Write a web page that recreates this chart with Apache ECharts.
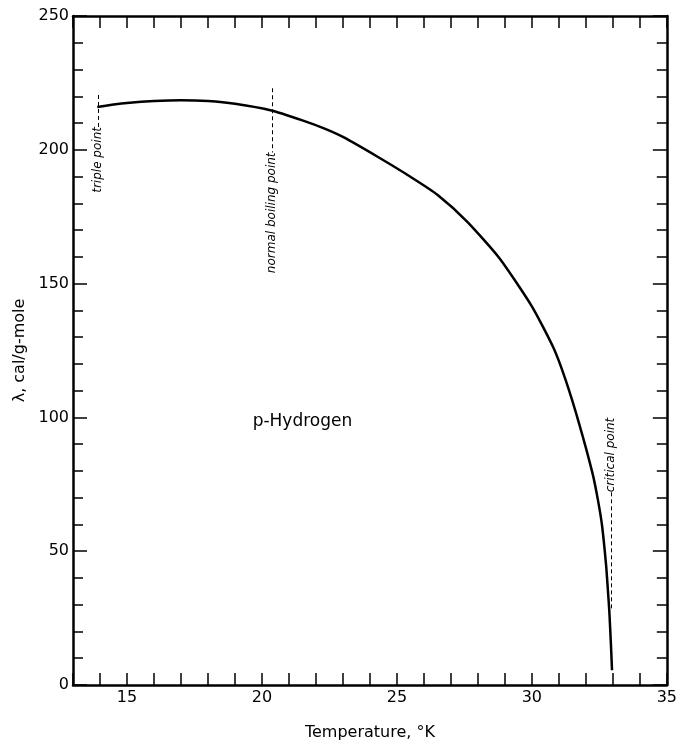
<!DOCTYPE html>
<html>
<head>
<meta charset="utf-8">
<title>p-Hydrogen heat of vaporization</title>
<script src="https://cdn.jsdelivr.net/npm/echarts@6/dist/echarts.min.js"></script>
<style>
  html, body { margin: 0; padding: 0; background: #fff; }
  #main { width: 680px; height: 746px; }
</style>
</head>
<body>
<div id="main"></div>
<script>
// temperature (K) and heat of vaporization (cal/g-mole)
var temps = [13.9, 14.5, 15, 16, 17, 18, 19, 20.35, 21.5, 22.3, 23.0, 24.3, 25.6, 26.5, 27.6,
             28.8, 30.0, 30.8, 31.25, 31.75, 32.25, 32.45, 32.6, 32.75, 32.82, 32.87, 32.93, 32.97];
var lambdas = [216.0, 216.9, 217.5, 218.2, 218.5, 218.2, 217.2, 214.7, 211.0, 208.0, 204.8, 197.3, 189.3, 183.2, 173.2,
               159.5, 141.5, 126.0, 114.0, 97.7, 79.0, 69.0, 59.6, 44.8, 35.0, 27.5, 15.0, 5.5];

var xTickLabels = [15, 20, 25, 30, 35];
var yTickLabels = [0, 50, 100, 150, 200, 250];

// marked points: name, temperature, dashed line top and bottom
var markNames = ['triple point', 'normal boiling point', 'critical point'];
var markTemps = [13.92, 20.38, 32.94];
var markTop = [220.5, 223, 72];
var markBottom = [208.5, 199, 28];

var curve = temps.map(function (t, i) { return [t, lambdas[i]]; });

var dashLines = markTemps.map(function (t, i) {
  return [{ coord: [t, markTop[i]] }, { coord: [t, markBottom[i]] }];
});

// labels sit at the end of each dashed line (below for the first two, above for the critical point)
var markLabels = markTemps.map(function (t, i) {
  var below = i < 2;
  return {
    value: [t, below ? markBottom[i] : markTop[i]],
    label: { align: below ? 'right' : 'left', formatter: markNames[i] }
  };
});

var FONT = 'DejaVu Sans';
var INK = '#000';

function xAxisOpt(pos, showLabels) {
  return {
    type: 'value', position: pos, min: 13, max: 35, interval: 1,
    name: showLabels ? 'Temperature, °K' : '',
    nameLocation: 'middle',
    nameGap: 40,
    nameTextStyle: { fontFamily: FONT, fontSize: 16, color: INK },
    axisLine: { show: true, onZero: false, lineStyle: { color: INK, width: 2.5 } },
    axisTick: { show: true, inside: true, length: 12, lineStyle: { color: INK, width: 1.5 } },
    axisLabel: {
      show: showLabels, interval: 0, margin: 5, fontFamily: FONT, fontSize: 16, color: INK,
      formatter: function (v) { return xTickLabels.indexOf(v) >= 0 ? String(v) : ''; }
    },
    splitLine: { show: false }
  };
}

function yAxisOpt(pos, showLabels) {
  return {
    type: 'value', position: pos, min: 0, max: 250, interval: 50,
    name: showLabels ? 'λ, cal/g-mole' : '',
    nameLocation: 'middle',
    nameGap: 44,
    nameTextStyle: { fontFamily: FONT, fontSize: 16, color: INK },
    axisLine: { show: true, onZero: false, lineStyle: { color: INK, width: 2.5 } },
    axisTick: { show: true, inside: true, length: 14, lineStyle: { color: INK, width: 1.5 } },
    minorTick: { show: true, splitNumber: 5, length: 10, lineStyle: { color: INK, width: 1.5 } },
    axisLabel: {
      show: showLabels, margin: 4, fontFamily: FONT, fontSize: 16, color: INK,
      formatter: function (v) { return yTickLabels.indexOf(v) >= 0 ? String(v) : ''; }
    },
    splitLine: { show: false }
  };
}

var chart = echarts.init(document.getElementById('main'));

chart.setOption({
  animation: false,
  backgroundColor: '#fff',
  grid: { left: 73, right: 8, top: 16, bottom: 56 },
  xAxis: [xAxisOpt('bottom', true), xAxisOpt('top', false)],
  yAxis: [yAxisOpt('left', true), yAxisOpt('right', false)],
  series: [
    {
      name: 'p-Hydrogen',
      type: 'line',
      data: curve,
      smooth: 0.2,
      showSymbol: false,
      lineStyle: { color: INK, width: 2.5 },
      markLine: {
        silent: true,
        symbol: ['none', 'none'],
        label: { show: false },
        lineStyle: { color: INK, width: 1, type: [4, 3] },
        data: dashLines
      }
    },
    {
      type: 'scatter',
      data: markLabels,
      symbolSize: 0,
      silent: true,
      itemStyle: { opacity: 1, color: INK },
      label: {
        show: true, position: 'inside', rotate: 90, verticalAlign: 'middle',
        fontFamily: FONT, fontStyle: 'italic', fontSize: 12, color: INK,
        textBorderWidth: 0, textBorderColor: 'transparent', opacity: 1
      }
    },
    {
      type: 'scatter',
      data: [[21.5, 98.5]],
      symbolSize: 0,
      silent: true,
      itemStyle: { opacity: 1, color: INK },
      label: {
        show: true, position: 'inside', formatter: 'p-Hydrogen',
        fontFamily: FONT, fontSize: 17, color: INK,
        textBorderWidth: 0, textBorderColor: 'transparent', opacity: 1
      }
    }
  ]
});
</script>
</body>
</html>
